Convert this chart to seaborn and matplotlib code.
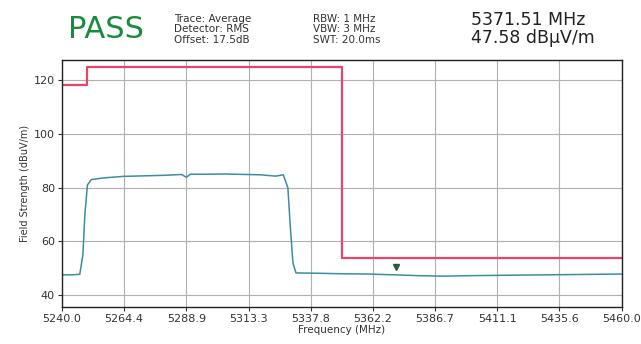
import numpy as np
import pandas as pd
import matplotlib
matplotlib.use("Agg")
import matplotlib.pyplot as plt
import matplotlib.transforms as mtransforms
import seaborn as sns

# trace
freq = [5240, 5244, 5247, 5248.2, 5249.0, 5250.0, 5251.5, 5256, 5264, 5272, 5280, 5287,
        5288.9, 5290.5, 5296, 5304, 5313, 5318, 5324, 5327, 5328.8, 5329.8, 5330.8,
        5332, 5340, 5350, 5360, 5371.51, 5380, 5390, 5400, 5410, 5420, 5430, 5440, 5450, 5460]
level = [47.6, 47.6, 47.8, 55.0, 70.0, 81.0, 83.0, 83.6, 84.2, 84.4, 84.6, 84.9,
         83.9, 85.0, 85.0, 85.1, 84.9, 84.8, 84.3, 84.8, 80.0, 65.0, 52.0,
         48.3, 48.2, 48.0, 47.9, 47.58, 47.3, 47.1, 47.3, 47.4, 47.5, 47.6, 47.7, 47.8, 47.9]

limit_freq = [5240, 5250, 5350, 5460]
limit_level = [118, 125, 54, 54]

marker_freq = 5371.51
marker_level = 47.58

xticks = np.linspace(5240, 5460, 10)
yticks = [40, 60, 80, 100, 120]

trace = pd.DataFrame({"Frequency": freq, "Level": level})
limit = pd.DataFrame({"Frequency": limit_freq, "Level": limit_level})

sns.set_style("whitegrid")
plt.rcParams["font.family"] = ["DejaVu Sans"]

fig = plt.figure(figsize=(6.41, 3.44), dpi=100)
ax = fig.add_axes([0.0967, 0.108, 0.873, 0.717])

sns.lineplot(data=limit, x="Frequency", y="Level", color="#e6456a", lw=1.6,
             drawstyle="steps-post", ax=ax, sort=False)
sns.lineplot(data=trace, x="Frequency", y="Level", color="#3c8d9e", lw=1.1,
             ax=ax, sort=False)

# marker triangle sits a bit above the trace point
off = mtransforms.offset_copy(ax.transData, fig=fig, x=0, y=6, units="points")
ax.plot([marker_freq], [marker_level], marker="v", color="#1f5f3a", ms=5,
        ls="none", transform=off)

ax.set_xlim(5240, 5460)
ax.set_ylim(35.7, 127.4)
ax.set_xticks(xticks)
ax.set_xticklabels([f"{t:.1f}" for t in xticks])
ax.set_yticks(yticks)
ax.tick_params(labelsize=8, colors="#333333", length=3, direction="out",
               bottom=True, left=True, pad=2)
ax.set_xlabel("Frequency (MHz)", fontsize=7.5, color="#333333", labelpad=1)
ax.set_ylabel("Field Strength (dBuV/m)", fontsize=7, color="#333333", labelpad=3)
ax.grid(True, color="#b0b0b0", lw=0.8)
for s in ax.spines.values():
    s.set_color("#222222")
    s.set_linewidth(1.0)

fig.text(0.106, 0.915, "PASS", fontsize=22, color="#1a8a3e", va="center", ha="left")
fig.text(0.272, 0.915, "Trace: Average\nDetector: RMS\nOffset: 17.5dB",
         fontsize=7.5, color="#333333", va="center", ha="left", linespacing=1.05)
fig.text(0.489, 0.915, "RBW: 1 MHz\nVBW: 3 MHz\nSWT: 20.0ms",
         fontsize=7.5, color="#333333", va="center", ha="left", linespacing=1.05)
fig.text(0.735, 0.915, "5371.51 MHz\n47.58 dBµV/m", fontsize=12.5, color="#222222",
         va="center", ha="left", linespacing=1.0)

fig.savefig("out.png", dpi=100)
